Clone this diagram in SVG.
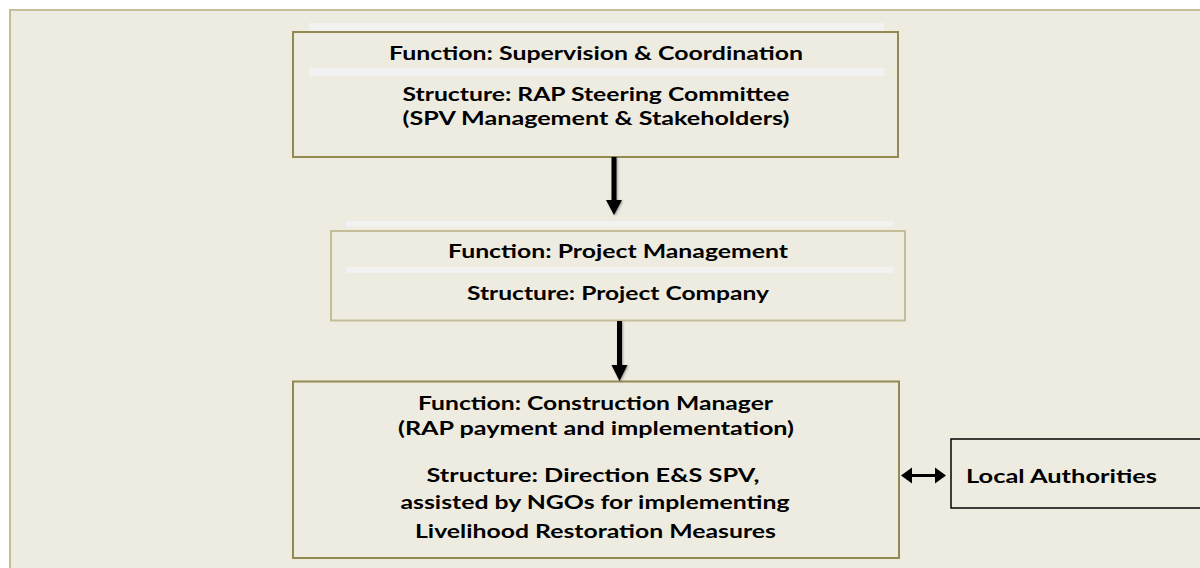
<svg xmlns="http://www.w3.org/2000/svg" width="1200" height="568" viewBox="0 0 1200 568">
<defs>
<style>
.t{font-family:Lato,"Open Sans","DejaVu Sans",sans-serif;font-weight:bold;font-size:19px;fill:#000}
.bar{fill:#F2F2F2}
.dk{fill:none;stroke:#938953;stroke-width:2}
.lt{fill:none;stroke:#C4BD97;stroke-width:2}
.ar{fill:#000}
</style>
<filter id="sh" x="-50%" y="-20%" width="200%" height="140%">
<feDropShadow dx="1" dy="1" stdDeviation="1.2" flood-color="#000" flood-opacity="0.35"/>
</filter>
</defs>
<rect x="0" y="0" width="1200" height="568" fill="#FFFFFF"/>
<rect x="10" y="10" width="1200" height="570" fill="#EEECE1" stroke="#C4BD97" stroke-width="2"/>

<g id="node-supervision">
<rect class="bar" x="309" y="23" width="575" height="8"/>
<rect class="bar" x="309" y="68" width="575" height="8"/>
<rect class="dk" x="293" y="32" width="605" height="125"/>
<text class="t" x="389" y="60" textLength="414" lengthAdjust="spacingAndGlyphs">Function: Supervision &amp; Coordination</text>
<text class="t" x="402.5" y="101" textLength="387" lengthAdjust="spacingAndGlyphs">Structure: RAP Steering Committee</text>
<text class="t" x="402.5" y="125" textLength="387" lengthAdjust="spacingAndGlyphs">(SPV Management &amp; Stakeholders)</text>
</g>

<g id="node-project">
<rect class="bar" x="346" y="221" width="547" height="5.5"/>
<rect class="bar" x="346" y="267" width="547" height="6"/>
<rect class="lt" x="331" y="231" width="574" height="89.5"/>
<text class="t" x="448" y="258" textLength="340" lengthAdjust="spacingAndGlyphs">Function: Project Management</text>
<text class="t" x="467" y="300" textLength="302" lengthAdjust="spacingAndGlyphs">Structure: Project Company</text>
</g>

<g id="node-construction">
<rect class="dk" x="293" y="381.5" width="606" height="176.5"/>
<text class="t" x="418" y="410" textLength="355" lengthAdjust="spacingAndGlyphs">Function: Construction Manager</text>
<text class="t" x="398" y="435" textLength="396" lengthAdjust="spacingAndGlyphs">(RAP payment and implementation)</text>
<text class="t" x="426.5" y="482" textLength="333" lengthAdjust="spacingAndGlyphs">Structure: Direction E&amp;S SPV,</text>
<text class="t" x="400.5" y="509" textLength="389" lengthAdjust="spacingAndGlyphs">assisted by NGOs for implementing</text>
<text class="t" x="415" y="538" textLength="361" lengthAdjust="spacingAndGlyphs">Livelihood Restoration Measures</text>
</g>

<g id="node-local">
<rect x="951" y="439" width="260" height="69" fill="none" stroke="#000" stroke-width="1.5"/>
<text class="t" x="966" y="483" textLength="191" lengthAdjust="spacingAndGlyphs">Local Authorities</text>
</g>

<g id="connectors">
<g filter="url(#sh)">
<rect class="ar" x="611.5" y="157" width="5" height="44"/>
<polygon class="ar" points="606,200 622,200 614,215"/>
</g>
<g filter="url(#sh)">
<rect class="ar" x="617" y="321" width="5" height="45"/>
<polygon class="ar" points="611.5,365 627.5,365 619.5,381"/>
</g>
<g>
<rect class="ar" x="910" y="474" width="27" height="3"/>
<polygon class="ar" points="901,475.5 912,467.5 912,483.5"/>
<polygon class="ar" points="946,475.5 935,467.5 935,483.5"/>
</g>
</g>
</svg>
